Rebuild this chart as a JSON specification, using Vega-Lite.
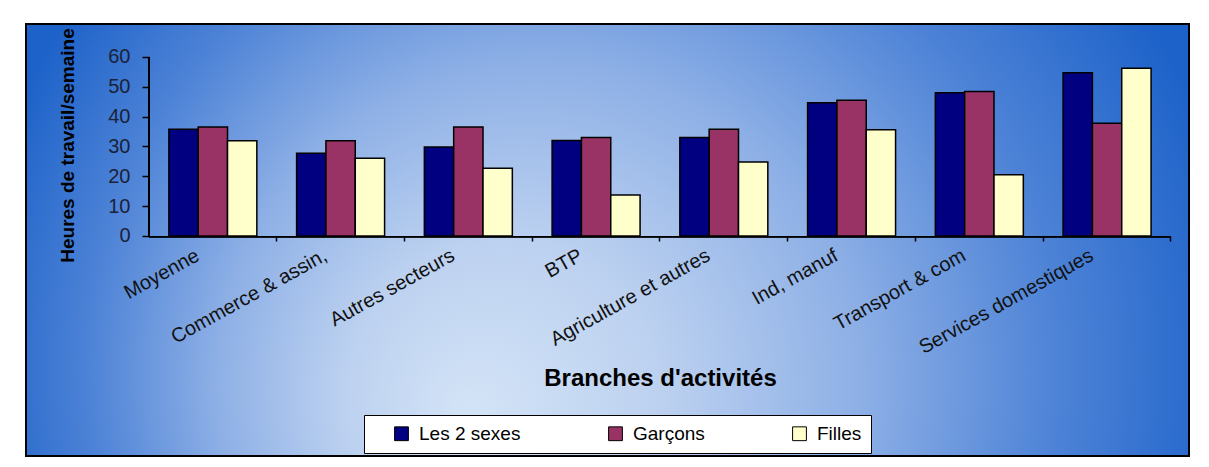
{
  "$schema": "https://vega.github.io/schema/vega-lite/v6.json",
  "width": 1163,
  "height": 432,
  "autosize": {"type": "none"},
  "padding": {"left": 26, "top": 24, "right": 20, "bottom": 11},
  "background": "#ffffff",
  "config": {
    "font": "Liberation Sans",
    "view": {
      "fill": {
        "gradient": "radial",
        "x1": 0.38, "y1": 0.65, "r1": 0,
        "x2": 0.5, "y2": 0.6, "r2": 0.55,
        "stops": [
          {"offset": 0, "color": "#d4e4f7"},
          {"offset": 0.25, "color": "#bcd1f0"},
          {"offset": 0.5, "color": "#8eb0e6"},
          {"offset": 0.75, "color": "#4f84d7"},
          {"offset": 1, "color": "#1d62c9"}
        ]
      },
      "stroke": "#000000",
      "strokeWidth": 2
    }
  },
  "data": {
    "values": [
      {"branche": "Moyenne", "sexe": "Les 2 sexes", "heures": 35.8},
      {"branche": "Moyenne", "sexe": "Garçons", "heures": 36.5},
      {"branche": "Moyenne", "sexe": "Filles", "heures": 31.9},
      {"branche": "Commerce & assin,", "sexe": "Les 2 sexes", "heures": 27.7},
      {"branche": "Commerce & assin,", "sexe": "Garçons", "heures": 31.9},
      {"branche": "Commerce & assin,", "sexe": "Filles", "heures": 26.1},
      {"branche": "Autres secteurs", "sexe": "Les 2 sexes", "heures": 29.8},
      {"branche": "Autres secteurs", "sexe": "Garçons", "heures": 36.5},
      {"branche": "Autres secteurs", "sexe": "Filles", "heures": 22.7},
      {"branche": "BTP", "sexe": "Les 2 sexes", "heures": 32.0},
      {"branche": "BTP", "sexe": "Garçons", "heures": 33.0},
      {"branche": "BTP", "sexe": "Filles", "heures": 13.7},
      {"branche": "Agriculture et autres", "sexe": "Les 2 sexes", "heures": 33.0},
      {"branche": "Agriculture et autres", "sexe": "Garçons", "heures": 35.8},
      {"branche": "Agriculture et autres", "sexe": "Filles", "heures": 24.8},
      {"branche": "Ind, manuf", "sexe": "Les 2 sexes", "heures": 44.7},
      {"branche": "Ind, manuf", "sexe": "Garçons", "heures": 45.5},
      {"branche": "Ind, manuf", "sexe": "Filles", "heures": 35.6},
      {"branche": "Transport & com", "sexe": "Les 2 sexes", "heures": 48.0},
      {"branche": "Transport & com", "sexe": "Garçons", "heures": 48.4},
      {"branche": "Transport & com", "sexe": "Filles", "heures": 20.5},
      {"branche": "Services domestiques", "sexe": "Les 2 sexes", "heures": 54.7},
      {"branche": "Services domestiques", "sexe": "Garçons", "heures": 37.8},
      {"branche": "Services domestiques", "sexe": "Filles", "heures": 56.2}
    ]
  },
  "layer": [
    {
      "mark": {"type": "bar", "stroke": "#000000", "strokeWidth": 1.5},
      "encoding": {
        "x": {
          "field": "branche",
          "type": "nominal",
          "sort": ["Moyenne", "Commerce & assin,", "Autres secteurs", "BTP", "Agriculture et autres", "Ind, manuf", "Transport & com", "Services domestiques"],
          "scale": {"paddingInner": 0, "paddingOuter": 0.552, "align": 0.872},
          "axis": {
            "orient": "bottom",
            "offset": -220,
            "domain": false,
            "grid": false,
            "tickSize": 5,
            "tickColor": "#000000",
            "tickWidth": 1.5,
            "bandPosition": 1,
            "labelAngle": -29,
            "labelAlign": "right",
            "labelBaseline": "top",
            "labelFontSize": 20,
            "labelColor": "#111111",
            "labelPadding": 4,
            "labelOffset": -20,
            "labelLimit": 0,
            "labelOverlap": false,
            "title": "Branches d'activités",
            "titleFontSize": 24,
            "titleFontWeight": "bold",
            "titleColor": "#000000",
            "titleX": 634,
            "titleY": 142,
            "titleAlign": "center",
            "titleBaseline": "middle"
          }
        },
        "xOffset": {
          "field": "sexe",
          "type": "nominal",
          "sort": ["Les 2 sexes", "Garçons", "Filles"],
          "scale": {"paddingInner": 0, "paddingOuter": 0.678}
        },
        "y": {
          "field": "heures",
          "type": "quantitative",
          "scale": {"domain": [-73.75, 71.06], "nice": false, "zero": false},
          "axis": {
            "orient": "left",
            "offset": -123,
            "values": [0, 10, 20, 30, 40, 50, 60],
            "domain": false,
            "grid": false,
            "tickSize": 7,
            "tickColor": "#000000",
            "tickWidth": 1.5,
            "labelFontSize": 20,
            "labelColor": "#1a2238",
            "labelPadding": 12,
            "title": "Heures de travail/semaine",
            "titleFontSize": 19,
            "titleFontWeight": "bold",
            "titleColor": "#000000",
            "titleX": -82,
            "titleY": 121,
            "titleAngle": -90,
            "titleAlign": "center",
            "titleBaseline": "middle"
          }
        },
        "y2": {"datum": 0},
        "color": {
          "field": "sexe",
          "type": "nominal",
          "sort": ["Les 2 sexes", "Garçons", "Filles"],
          "scale": {"domain": ["Les 2 sexes", "Garçons", "Filles"], "range": ["#000080", "#993366", "#ffffcc"]},
          "legend": {
            "title": null,
            "orient": "none",
            "legendX": 338,
            "legendY": 391,
            "direction": "horizontal",
            "fillColor": "#ffffff",
            "strokeColor": "#000000",
            "padding": 9,
            "symbolOffset": 19,
            "symbolType": "square",
            "symbolSize": 190,
            "symbolStrokeColor": "#000000",
            "symbolStrokeWidth": 1,
            "labelFontSize": 19,
            "labelColor": "#000000",
            "labelOffset": 8,
            "columnPadding": 66
          }
        }
      }
    },
    {
      "mark": {"type": "bar", "color": "#000000"},
      "encoding": {
        "x": {
          "field": "branche",
          "type": "nominal",
          "sort": ["Moyenne", "Commerce & assin,", "Autres secteurs", "BTP", "Agriculture et autres", "Ind, manuf", "Transport & com", "Services domestiques"]
        },
        "y": {"datum": 0},
        "y2": {"datum": -0.5}
      }
    },
    {
      "mark": {"type": "rule", "color": "#000000", "strokeWidth": 1.5},
      "encoding": {
        "x": {"datum": "Moyenne", "bandPosition": 0},
        "y": {"datum": 0},
        "y2": {"datum": 60}
      }
    }
  ]
}
